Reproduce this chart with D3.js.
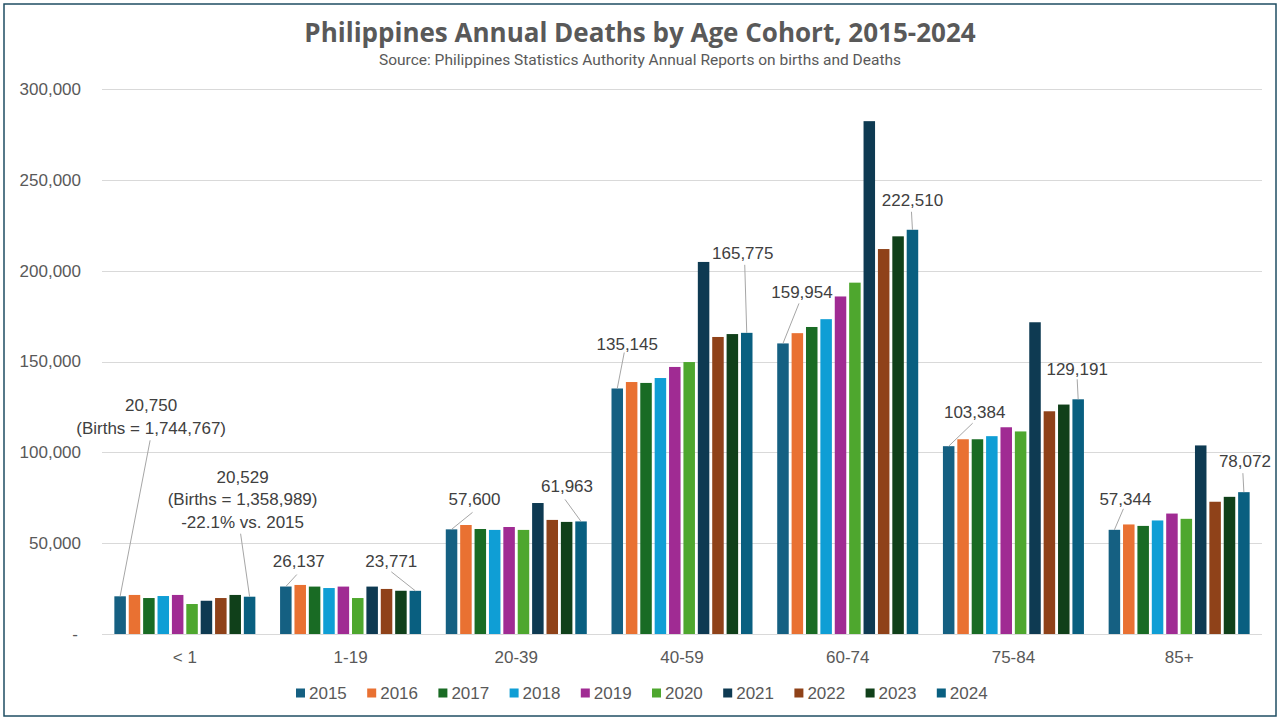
<!DOCTYPE html>
<html>
<head>
<meta charset="utf-8">
<script src="https://cdn.jsdelivr.net/npm/d3@7"></script>
<style>
  html, body { margin: 0; padding: 0; background: #fff; }
  #viz { width: 1280px; height: 720px; }
</style>
</head>
<body>
<div id="viz"></div>
<script>
const cohorts = ['< 1', '1-19', '20-39', '40-59', '60-74', '75-84', '85+'];
const years = ['2015', '2016', '2017', '2018', '2019', '2020', '2021', '2022', '2023', '2024'];

// deaths per cohort, one value per year 2015..2024
const deathsUnder1 = [20750, 21500, 19800, 20900, 21500, 16500, 18300, 19800, 21500, 20529];
const deaths1to19 = [26137, 27000, 26100, 25300, 26100, 19800, 26100, 24800, 23800, 23771];
const deaths20to39 = [57600, 60000, 57800, 57300, 58900, 57300, 72100, 62800, 61700, 61963];
const deaths40to59 = [135145, 138700, 138200, 140900, 147000, 149700, 204800, 163500, 165100, 165775];
const deaths60to74 = [159954, 165600, 169000, 173300, 185800, 193400, 282300, 211900, 218900, 222510];
const deaths75to84 = [103384, 107200, 107200, 108900, 113800, 111500, 171600, 122600, 126300, 129191];
const deaths85plus = [57344, 60300, 59500, 62500, 66300, 63400, 103800, 72800, 75500, 78072];

const yTicks = [0, 50000, 100000, 150000, 200000, 250000, 300000];

const colors = ['#156082', '#e97132', '#196b24', '#0f9ed5', '#a02b93',
  '#4ea72e', '#0e3a52', '#8f4219', '#10401a', '#095f80'];

// callouts: which bar, what text
const callouts = [
  { cohort: '< 1', year: '2015', lines: ['20,750', '(Births = 1,744,767)'] },
  { cohort: '< 1', year: '2024', lines: ['20,529', '(Births = 1,358,989)', '-22.1% vs. 2015'] },
  { cohort: '1-19', year: '2015', lines: ['26,137'] },
  { cohort: '1-19', year: '2024', lines: ['23,771'] },
  { cohort: '20-39', year: '2015', lines: ['57,600'] },
  { cohort: '20-39', year: '2024', lines: ['61,963'] },
  { cohort: '40-59', year: '2015', lines: ['135,145'] },
  { cohort: '40-59', year: '2024', lines: ['165,775'] },
  { cohort: '60-74', year: '2015', lines: ['159,954'] },
  { cohort: '60-74', year: '2024', lines: ['222,510'] },
  { cohort: '75-84', year: '2015', lines: ['103,384'] },
  { cohort: '75-84', year: '2024', lines: ['129,191'] },
  { cohort: '85+', year: '2015', lines: ['57,344'] },
  { cohort: '85+', year: '2024', lines: ['78,072'] }
];

// label placement relative to the bar top: [text dx, text dy, leader dx, leader dy]
const calloutOffsets = [
  [31, -191, 30, -156], [-7, -120, -9, -63], [13, -25, 11, -12], [-24, -30, -24, -19],
  [23, -30, 21, -17], [-14, -35, -16, -22], [10, -44, 7, -36], [-4, -80, -2, -68],
  [19, -51, 16, -40], [0, -30, -1, -18], [26, -34, 24, -23], [-1, -30, -1, -20],
  [11, -31, 9, -21], [1, -31, -1, -19]
];

const series = [deathsUnder1, deaths1to19, deaths20to39, deaths40to59,
  deaths60to74, deaths75to84, deaths85plus];
const table = cohorts.map((c, i) => ({
  cohort: c,
  values: years.map((yr, j) => ({ cohort: c, year: yr, value: series[i][j] }))
}));

const width = 1280;
const height = 720;
const plot = { left: 102, right: 1262, top: 89, bottom: 634 };
const LABEL_FONT = '"Liberation Sans", Arial, sans-serif';

const svg = d3
  .select('#viz')
  .append('svg')
  .attr('width', width)
  .attr('height', height)
  .attr('viewBox', `0 0 ${width} ${height}`);

svg.append('rect')
  .attr('x', 4).attr('y', 4)
  .attr('width', width - 8).attr('height', height - 8)
  .attr('fill', '#fff')
  .attr('stroke', '#1f4e63')
  .attr('stroke-width', 1.5);

const x0 = d3.scaleBand().domain(cohorts).range([plot.left, plot.right]);
const groupPad = (x0.bandwidth() - 141) / 2;
const x1 = d3.scaleBand().domain(years)
  .range([groupPad, x0.bandwidth() - groupPad])
  .paddingInner(0.2);
const y = d3.scaleLinear().domain([0, 300000]).range([plot.bottom, plot.top]);
const color = d3.scaleOrdinal().domain(years).range(colors);

// gridlines
svg.append('g')
  .selectAll('line')
  .data(yTicks)
  .enter()
  .append('line')
  .attr('x1', plot.left)
  .attr('x2', plot.right)
  .attr('y1', d => Math.round(y(d)) + 0.5)
  .attr('y2', d => Math.round(y(d)) + 0.5)
  .attr('stroke', '#d9d9d9')
  .attr('stroke-width', 1);

// y axis labels
const yAxis = svg.append('g')
  .attr('transform', `translate(${plot.left - 21},0)`)
  .call(d3.axisLeft(y).tickValues(yTicks).tickSize(0).tickPadding(0)
    .tickFormat(d => (d === 0 ? '-' : d3.format(',')(d))));
yAxis.select('.domain').remove();
yAxis.selectAll('text')
  .attr('font-family', LABEL_FONT)
  .attr('font-size', 17)
  .attr('fill', '#595959')
  .attr('dx', d => (d === 0 ? -3 : 0));

// x axis labels
const xAxis = svg.append('g')
  .attr('transform', `translate(0,${plot.bottom + 17})`)
  .call(d3.axisBottom(x0).tickSize(0).tickPadding(0));
xAxis.select('.domain').remove();
xAxis.selectAll('text')
  .attr('font-family', LABEL_FONT)
  .attr('font-size', 17)
  .attr('fill', '#595959');

// bars
svg.append('g')
  .selectAll('g')
  .data(table)
  .enter()
  .append('g')
  .attr('transform', d => `translate(${x0(d.cohort)},0)`)
  .selectAll('rect')
  .data(d => d.values)
  .enter()
  .append('rect')
  .attr('x', d => x1(d.year))
  .attr('y', d => y(d.value))
  .attr('width', x1.bandwidth())
  .attr('height', d => y(0) - y(d.value))
  .attr('fill', d => color(d.year));

// callouts with leader lines
const barTop = c => {
  const i = cohorts.indexOf(c.cohort);
  const j = years.indexOf(c.year);
  return [x0(c.cohort) + x1(c.year) + x1.bandwidth() / 2, y(series[i][j])];
};

const labels = svg.append('g');
callouts.forEach((c, k) => {
  const [bx, by] = barTop(c);
  const [tdx, tdy, ldx, ldy] = calloutOffsets[k];
  labels.append('line')
    .attr('x1', bx + ldx)
    .attr('y1', by + ldy)
    .attr('x2', bx)
    .attr('y2', by)
    .attr('stroke', '#a6a6a6')
    .attr('stroke-width', 1);
  const t = labels.append('text')
    .attr('x', bx + tdx)
    .attr('y', by + tdy)
    .attr('text-anchor', 'middle')
    .attr('font-family', LABEL_FONT)
    .attr('font-size', 17)
    .attr('fill', '#404040');
  c.lines.forEach((ln, n) => {
    t.append('tspan')
      .attr('x', bx + tdx)
      .attr('dy', n === 0 ? '0.35em' : 22.5)
      .text(ln);
  });
});

// title
svg.append('text')
  .attr('x', width / 2)
  .attr('y', 42)
  .attr('text-anchor', 'middle')
  .attr('font-family', '"Open Sans", sans-serif')
  .attr('font-weight', 700)
  .attr('font-size', 26)
  .attr('fill', '#595959')
  .text('Philippines Annual Deaths by Age Cohort, 2015-2024');

svg.append('text')
  .attr('x', width / 2)
  .attr('y', 65)
  .attr('text-anchor', 'middle')
  .attr('font-family', 'Roboto, sans-serif')
  .attr('font-size', 15)
  .attr('textLength', 522)
  .attr('lengthAdjust', 'spacingAndGlyphs')
  .attr('fill', '#595959')
  .text('Source: Philippines Statistics Authority Annual Reports on births and Deaths');

// legend
const legend = svg.append('g')
  .selectAll('g')
  .data(years)
  .enter()
  .append('g')
  .attr('transform', (d, i) => `translate(${296 + i * 71.2},693)`);

legend.append('rect')
  .attr('x', 0)
  .attr('y', -4.5)
  .attr('width', 9)
  .attr('height', 9)
  .attr('fill', d => color(d));

legend.append('text')
  .attr('x', 13)
  .attr('y', 0)
  .attr('dy', '0.35em')
  .attr('font-family', LABEL_FONT)
  .attr('font-size', 17)
  .attr('fill', '#595959')
  .text(d => d);
</script>
</body>
</html>
